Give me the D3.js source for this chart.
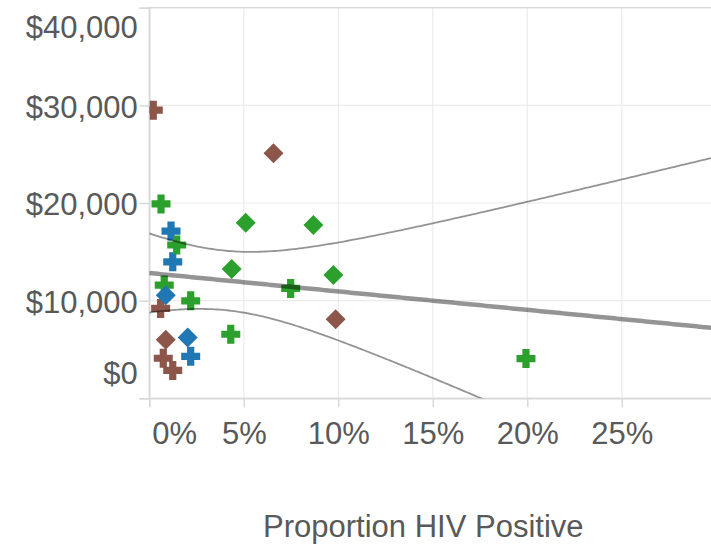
<!DOCTYPE html>
<html><head><meta charset="utf-8">
<script src="https://cdn.jsdelivr.net/npm/d3@7"></script>
<style>body{margin:0;background:#fff;overflow:hidden}</style>
</head><body>
<svg id="chart" width="711" height="556"></svg>
<script>
// ---------------- data ----------------
const pointGroup = ["brown","brown","brown","brown","brown","brown","brown",
  "blue","blue","blue",
  "green","green","green","green","green","green","green","green","green","green","green",
  "blue","blue"];
const pointShape = ["cross","diamond","cross","diamond","cross","cross","diamond",
  "cross","cross","cross",
  "cross","cross","cross","cross","cross","cross","cross","diamond","diamond","diamond","diamond",
  "diamond","diamond"];
const hivProportion = [0.0021,0.0657,0.0060,0.0087,0.0074,0.0124,0.0986,
  0.0115,0.0124,0.0219,
  0.0062,0.0145,0.0079,0.0219,0.0431,0.0748,0.1993,0.0510,0.0868,0.0436,0.0974,
  0.0087,0.0203];
const costUSD = [29500,25100,9200,6000,4100,2850,8100,
  17130,13980,4300,
  19900,15700,11600,9980,6560,11250,4070,17980,17750,13230,12620,
  10560,6230];
const groupNames  = ["brown","green","blue"];
const groupColors = ["#8c564b","#2ca02c","#1f77b4"];
const xDomain = [0, 0.30];
const yDomain = [0, 40000];
const xTickValues = [0,0.05,0.10,0.15,0.20,0.25];
const yTickValues = [0,10000,20000,30000,40000];
const xTitle = "Proportion HIV Positive";
const tCrit = 2.080; // 95% two-sided t quantile, n-2 = 21 df

// ---------------- layout ----------------
const svg = d3.select("#chart");
const pL = 149.3, pT = 7.7, pR = 716.3, pB = 398.3;
const x = d3.scaleLinear().domain(xDomain).range([pL, pR]);
const y = d3.scaleLinear().domain(yDomain).range([pB, pT]);
const color = d3.scaleOrdinal().domain(groupNames).range(groupColors);
const FONT = "'Liberation Sans', Arial, sans-serif";
const FS = 31;
const TXT = "#595959";

svg.append("defs").append("clipPath").attr("id","plotclip")
  .append("rect").attr("x",pL).attr("y",pT).attr("width",pR-pL).attr("height",pB-pT);

// gridlines
const grid = svg.append("g");
grid.selectAll("line.gx").data(xTickValues.filter(v=>v>0)).join("line")
  .attr("x1",d=>x(d)).attr("x2",d=>x(d)).attr("y1",pT).attr("y2",pB)
  .attr("stroke","#ebebeb").attr("stroke-width",1.2);
grid.selectAll("line.gy").data(yTickValues.filter(v=>v>0 && v<yDomain[1])).join("line")
  .attr("y1",d=>y(d)).attr("y2",d=>y(d)).attr("x1",pL).attr("x2",pR)
  .attr("stroke","#ebebeb").attr("stroke-width",1.2);

// view border
svg.append("rect").attr("x",pL).attr("y",pT).attr("width",pR-pL).attr("height",pB-pT)
  .attr("fill","none").attr("stroke","#d9d9d9").attr("stroke-width",1.5);

// axes (d3 axes, then styled)
const yAxis = svg.append("g").attr("transform",`translate(${pL},0)`)
  .call(d3.axisLeft(y).tickValues(yTickValues).tickSize(10).tickFormat(d3.format("$,.0f")));
const xAxis = svg.append("g").attr("transform",`translate(0,${pB})`)
  .call(d3.axisBottom(x).tickValues(xTickValues).tickSize(9).tickFormat(d3.format(".0%")));
[xAxis,yAxis].forEach(a=>{
  a.select(".domain").attr("stroke","#d9d9d9").attr("stroke-width",1.5);
  a.selectAll(".tick line").attr("stroke","#d9d9d9").attr("stroke-width",1.5);
  a.selectAll(".tick text").attr("font-family",FONT).attr("font-size",FS).attr("fill",TXT);
});
// y labels: flush at ends
yAxis.selectAll(".tick text").attr("x",-11.5).attr("dy",null)
  .attr("y",d=> d===yDomain[0] ? -15 : (d===yDomain[1] ? 30 : 11.8));
// x labels: first label flush left
xAxis.selectAll(".tick text").attr("dy",null).attr("y",46)
  .attr("text-anchor",d=> d===xDomain[0] ? "start" : "middle")
  .attr("x",d=> d===xDomain[0] ? 2.5 : 0);

// axis title
svg.append("text").attr("x",423.3).attr("y",537).attr("text-anchor","middle")
  .attr("font-family",FONT).attr("font-size",FS).attr("fill",TXT).text(xTitle);

// symbols
const crossType = { draw(ctx, size){ const h = Math.sqrt(size)/2, t = h*0.38;
  ctx.moveTo(-h,-t); ctx.lineTo(-t,-t); ctx.lineTo(-t,-h); ctx.lineTo(t,-h); ctx.lineTo(t,-t);
  ctx.lineTo(h,-t); ctx.lineTo(h,t); ctx.lineTo(t,t); ctx.lineTo(t,h); ctx.lineTo(-t,h);
  ctx.lineTo(-t,t); ctx.lineTo(-h,t); ctx.closePath(); } };
const diamondType = { draw(ctx, size){ const r = Math.sqrt(size/2);
  ctx.moveTo(0,-r); ctx.lineTo(r,0); ctx.lineTo(0,r); ctx.lineTo(-r,0); ctx.closePath(); } };
const symCross = d3.symbol().type(crossType).size(19*19);
const symDiamond = d3.symbol().type(diamondType).size(200);

const pts = d3.range(hivProportion.length).map(i=>({x:hivProportion[i], y:costUSD[i], g:pointGroup[i], s:pointShape[i]}));
const plot = svg.append("g").attr("clip-path","url(#plotclip)");
plot.selectAll("path.pt").data(pts).join("path").attr("class","pt")
  .attr("transform",d=>`translate(${x(d.x)},${y(d.y)})`)
  .attr("d",d=> d.s==="cross" ? symCross() : symDiamond())
  .attr("fill",d=>color(d.g));

// OLS regression with 95% confidence band of the mean
const n = pts.length;
const mx = d3.mean(pts,d=>d.x), my = d3.mean(pts,d=>d.y);
const sxx = d3.sum(pts,d=>(d.x-mx)**2), sxy = d3.sum(pts,d=>(d.x-mx)*(d.y-my));
const slope = sxy/sxx, icpt = my - slope*mx;
const s = Math.sqrt(d3.sum(pts,d=>(d.y-(icpt+slope*d.x))**2)/(n-2));
const xs = d3.range(0,201).map(i=> xDomain[0] + (xDomain[1]-xDomain[0])*i/200);
const fit = xs.map(v=>({x:v, y:icpt+slope*v, hw: tCrit*s*Math.sqrt(1/n + (v-mx)**2/sxx)}));
const line = d3.line().x(d=>x(d[0])).y(d=>y(d[1]));
plot.append("path").attr("d",line(fit.map(d=>[d.x,d.y+d.hw])))
  .attr("fill","none").attr("stroke","#000").attr("stroke-opacity",0.42).attr("stroke-width",1.8);
plot.append("path").attr("d",line(fit.map(d=>[d.x,d.y-d.hw])))
  .attr("fill","none").attr("stroke","#000").attr("stroke-opacity",0.42).attr("stroke-width",1.8);
plot.append("path").attr("d",line(fit.map(d=>[d.x,d.y])))
  .attr("fill","none").attr("stroke","#000").attr("stroke-opacity",0.42).attr("stroke-width",4.5);
</script>
</body></html>
